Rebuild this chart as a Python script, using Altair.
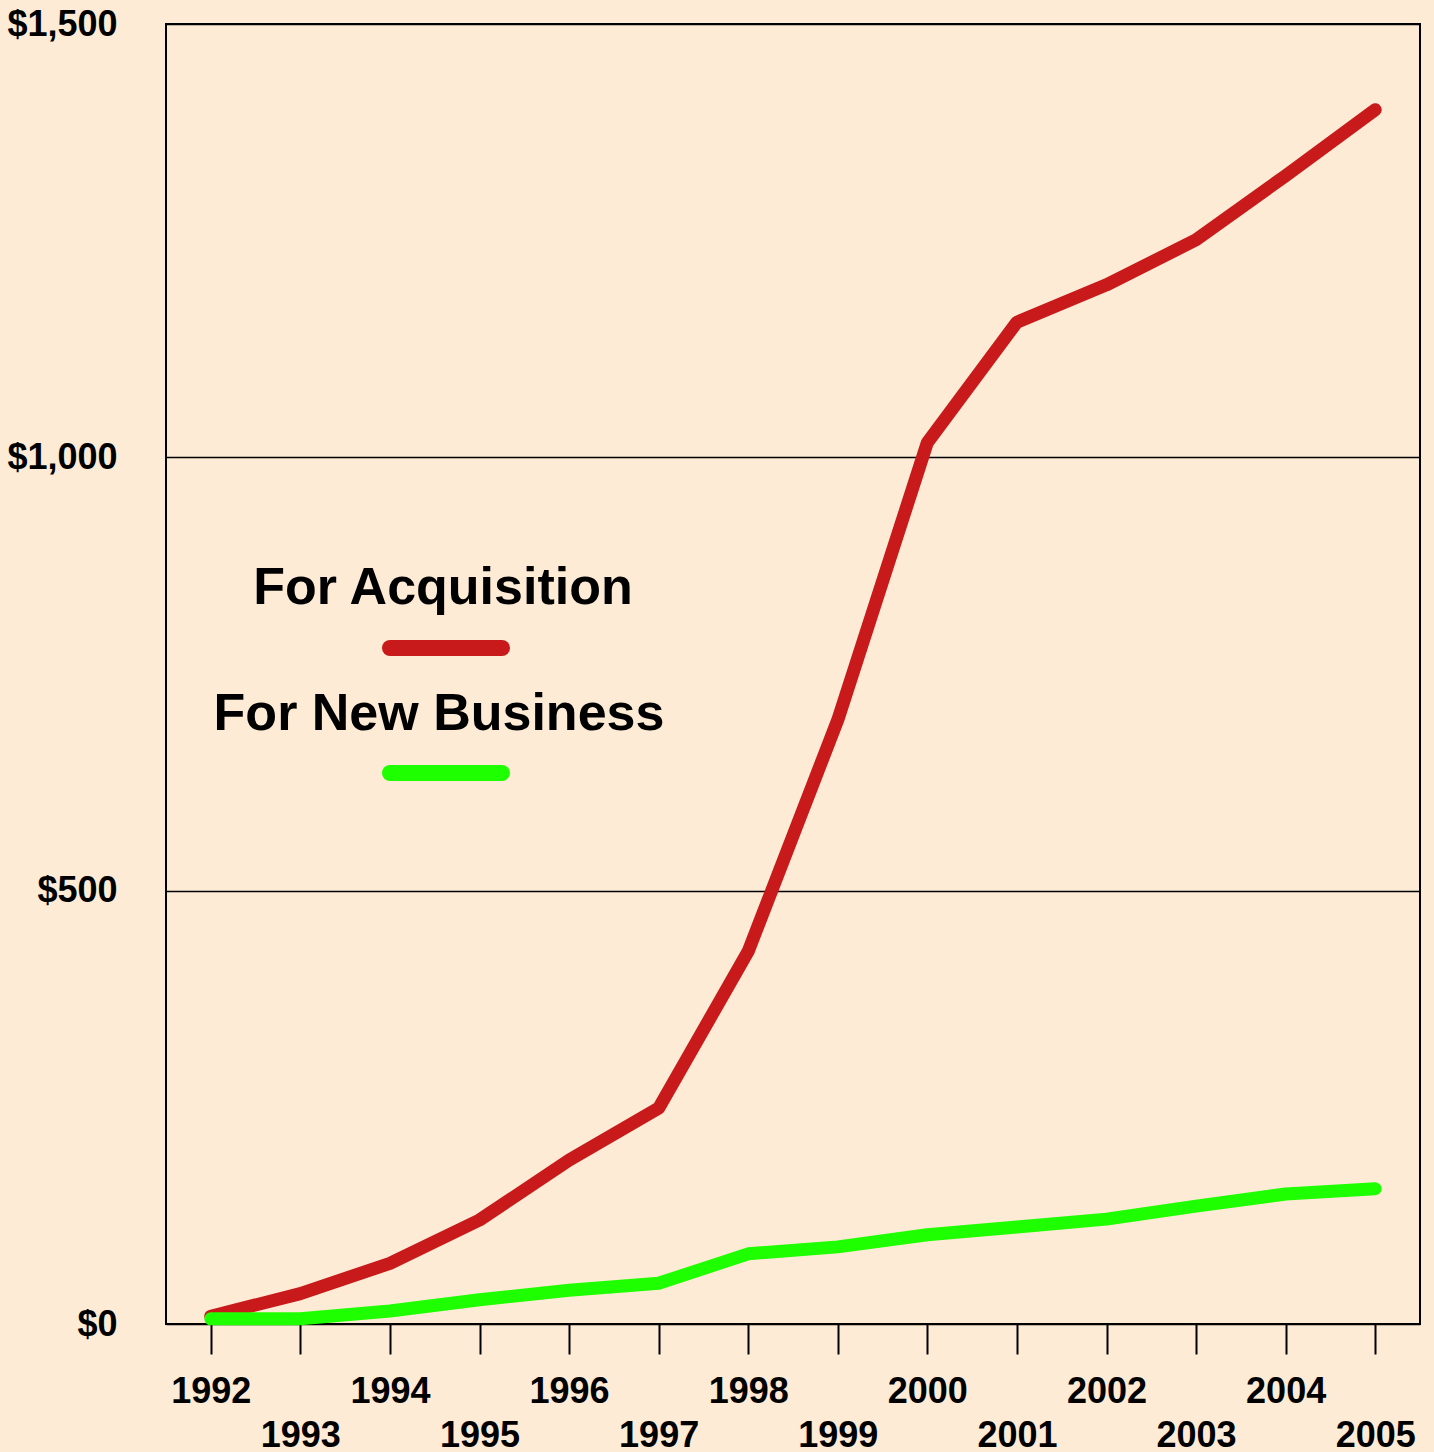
import altair as alt
import pandas as pd

years = list(range(1992, 2006))
acquisition = [9, 35, 70, 120, 189, 249, 430, 697, 1017, 1156, 1199, 1251, 1325, 1401]
new_business = [6, 6, 15, 28, 39, 47, 81, 89, 103, 112, 121, 136, 150, 156]
series_names = ["For Acquisition", "For New Business"]
series_colors = ["#C81A1A", "#1EFF00"]
y_ticks = [0, 500, 1000, 1500]

rows = []
for y, a, n in zip(years, acquisition, new_business):
    rows.append({"year": y, "value": a, "series": series_names[0]})
    rows.append({"year": y, "value": n, "series": series_names[1]})
df = pd.DataFrame(rows)

W, H = 1254, 1300
FONT = "Liberation Sans"

x_enc = alt.X(
    "year:O",
    scale=alt.Scale(type="point", padding=0.5),
    axis=alt.Axis(
        title=None,
        labelAngle=0,
        labelFont=FONT,
        labelFontSize=36,
        labelFontWeight="bold",
        labelColor="black",
        labelExpr="datum.value % 2 == 1 ? ['', datum.label] : datum.label",
        labelLineHeight=44,
        labelBaseline="top",
        labelPadding=20,
        tickSize=30,
        tickColor="black",
        tickWidth=2,
        domain=False,
        grid=False,
    ),
)

y_enc = alt.Y(
    "value:Q",
    scale=alt.Scale(domain=[0, 1500], nice=False),
    axis=alt.Axis(
        title=None,
        values=y_ticks,
        labelExpr="'$' + format(datum.value, ',')",
        labelFont=FONT,
        labelFontSize=36,
        labelFontWeight="bold",
        labelColor="black",
        labelPadding=49,
        ticks=False,
        domain=False,
        grid=True,
        gridColor="black",
        gridWidth=1.5,
        gridOpacity=1,
    ),
)

lines = alt.Chart(df).mark_line(strokeWidth=13, strokeCap="round", strokeJoin="round").encode(
    x=x_enc,
    y=y_enc,
    color=alt.Color("series:N", scale=alt.Scale(domain=series_names, range=series_colors), legend=None),
    detail="series:N",
)

leg_text_df = pd.DataFrame({"label": series_names})
leg1 = alt.Chart(pd.DataFrame({"label": [series_names[0]]})).mark_text(
    font=FONT, fontSize=52, fontWeight="bold", color="black", align="center", baseline="alphabetic"
).encode(text="label:N", x=alt.value(277), y=alt.value(580))
leg2 = alt.Chart(pd.DataFrame({"label": [series_names[1]]})).mark_text(
    font=FONT, fontSize=52, fontWeight="bold", color="black", align="center", baseline="alphabetic"
).encode(text="label:N", x=alt.value(273), y=alt.value(706))
sw1 = alt.Chart(pd.DataFrame({"k": [0]})).mark_rule(
    color=series_colors[0], strokeWidth=16, strokeCap="round"
).encode(x=alt.value(224), x2=alt.value(336), y=alt.value(624))
sw2 = alt.Chart(pd.DataFrame({"k": [0]})).mark_rule(
    color=series_colors[1], strokeWidth=16, strokeCap="round"
).encode(x=alt.value(224), x2=alt.value(336), y=alt.value(749))

chart = (
    alt.layer(lines, leg1, leg2, sw1, sw2)
    .properties(
        width=W,
        height=H,
        background="#FEEBD6",
        padding={"left": 166, "top": 24, "right": 14, "bottom": 128},
        autosize=alt.AutoSizeParams(type="none"),
    )
    .configure_view(stroke="black", strokeWidth=2, fill="#FEEBD6")
)

chart.save("out.html", embed_options={"renderer": "svg", "actions": False})
